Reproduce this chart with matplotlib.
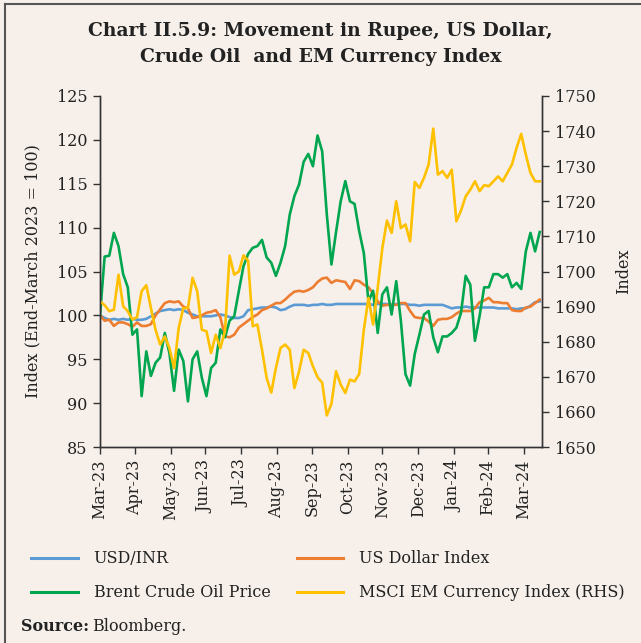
import pandas as pd
import matplotlib
matplotlib.use('Agg')
import matplotlib.pyplot as plt
from matplotlib.lines import Line2D

plt.rcParams['font.family'] = 'DejaVu Serif'

# 4-day observations starting end-March 2023
dates = pd.date_range('2023-03-31', periods=96, freq='4D')

usd_inr = [100.0, 99.7, 99.5, 99.6, 99.5, 99.6, 99.5, 99.6, 99.5, 99.5,
           99.6, 99.9, 100.2, 100.5, 100.6, 100.7, 100.6, 100.7, 100.6, 100.3,
           100.1, 99.9, 99.9, 99.9, 99.9, 100.0, 100.1, 100.0, 99.8, 99.7,
           99.7, 99.9, 100.6, 100.7, 100.8, 100.9, 100.9, 101.0, 100.9, 100.6,
           100.7, 101.0, 101.2, 101.2, 101.2, 101.1, 101.2, 101.2, 101.3, 101.2,
           101.2, 101.3, 101.3, 101.3, 101.3, 101.3, 101.3, 101.3, 101.3, 101.2,
           101.3, 101.3, 101.3, 101.2, 101.3, 101.3, 101.3, 101.2, 101.2, 101.1,
           101.2, 101.2, 101.2, 101.2, 101.2, 101.0, 100.8, 100.9, 100.9, 101.0,
           100.9, 100.9, 100.9, 100.9, 100.9, 100.9, 100.8, 100.8, 100.8, 100.8,
           100.7, 100.8, 100.8, 101.1, 101.5, 101.6]

dollar_index = [100.0, 99.4, 99.5, 98.8, 99.2, 99.2, 99.0, 98.7, 99.2, 98.8,
                98.8, 99.0, 100.0, 100.7, 101.4, 101.6, 101.5, 101.6, 101.0, 100.8,
                99.7, 99.8, 100.0, 100.3, 100.4, 100.6, 99.8, 97.6, 97.5, 97.8,
                98.6, 99.0, 99.4, 99.8, 100.1, 100.6, 100.8, 101.1, 101.4, 101.4,
                101.8, 102.3, 102.7, 102.8, 102.7, 102.9, 103.2, 103.8, 104.2, 104.3,
                103.7, 104.0, 103.9, 103.8, 103.0, 104.0, 103.9, 103.5, 103.2, 102.5,
                101.6, 101.1, 101.2, 101.2, 101.2, 101.4, 101.4, 100.5, 99.8, 99.7,
                99.7, 99.3, 98.8, 99.5, 99.6, 99.6, 99.8, 100.2, 100.5, 100.5,
                100.5, 100.8, 101.5, 101.7, 102.0, 101.5, 101.5, 101.4, 101.4, 100.6,
                100.5, 100.5, 100.9, 101.0, 101.4, 101.8]

brent = [100.0, 106.7, 106.8, 109.4, 107.9, 104.7, 103.2, 97.8, 98.4, 90.8,
         95.9, 93.1, 94.6, 95.2, 98.0, 95.7, 91.4, 96.1, 94.8, 90.2,
         95.0, 95.9, 92.9, 90.8, 94.0, 94.6, 98.4, 97.5, 99.4, 99.9,
         102.8, 105.6, 107.0, 107.7, 107.9, 108.6, 106.6, 106.0, 104.5, 106.0,
         107.9, 111.5, 113.6, 114.9, 117.5, 118.4, 117.0, 120.5, 118.7, 111.5,
         105.8, 109.5, 113.0, 115.3, 113.0, 112.7, 109.6, 107.1, 101.6, 102.8,
         98.0, 102.4, 103.2, 100.1, 103.9, 99.4, 93.3, 92.0, 95.6, 97.8,
         100.1, 100.5, 97.5, 95.8, 97.6, 97.6, 98.0, 98.6, 100.3, 104.5,
         103.5, 97.1, 99.9, 103.2, 103.2, 104.7, 104.7, 104.3, 104.7, 103.2,
         103.7, 103.0, 107.3, 109.4, 107.3, 109.5]

msci_em = [1691.5, 1690.4, 1688.7, 1689.1, 1699.1, 1690.1, 1688.7, 1686.3, 1687.0, 1694.4,
           1696.1, 1689.6, 1683.4, 1679.2, 1681.5, 1678.2, 1672.5, 1683.9, 1689.6, 1689.6,
           1698.2, 1694.4, 1683.4, 1683.0, 1676.8, 1682.0, 1678.2, 1683.0, 1704.5, 1699.1,
           1700.0, 1704.6, 1703.1, 1684.4, 1684.9, 1677.7, 1669.7, 1665.5, 1672.5, 1678.2,
           1679.2, 1677.7, 1666.8, 1671.5, 1677.7, 1676.8, 1673.0, 1669.9, 1668.3, 1659.0,
           1662.3, 1671.6, 1667.8, 1665.4, 1669.2, 1668.7, 1670.8, 1683.4, 1692.5, 1684.9,
           1695.3, 1706.7, 1714.5, 1711.0, 1720.0, 1712.4, 1713.4, 1708.6, 1725.5, 1723.8,
           1726.7, 1730.5, 1740.7, 1727.6, 1728.6, 1726.7, 1729.0, 1714.3, 1717.4, 1721.4,
           1723.3, 1725.7, 1722.9, 1724.6, 1724.3, 1725.7, 1727.1, 1725.7, 1728.1, 1730.5,
           1735.2, 1739.2, 1733.3, 1728.1, 1725.7, 1725.7]

bg = '#f7f0ea'
c_inr = '#5b9bd5'
c_dxy = '#ed7d31'
c_brent = '#00a64f'
c_msci = '#ffc000'
axis_col = '#333333'
txt_col = '#222222'
fs = 11.5

fig = plt.figure(figsize=(6.41, 6.43), dpi=100, facecolor=bg)
ax = fig.add_axes([0.156, 0.3048, 0.6896, 0.5459])
ax.set_facecolor(bg)
ax2 = ax.twinx()

ax.plot(dates, usd_inr, color=c_inr, lw=1.9)
ax.plot(dates, dollar_index, color=c_dxy, lw=1.9)
ax.plot(dates, brent, color=c_brent, lw=1.9)
ax2.plot(dates, msci_em, color=c_msci, lw=1.9)

ax.set_ylim(85, 125)
ax.set_yticks(range(85, 126, 5))
ax2.set_ylim(1650, 1750)
ax2.set_yticks(range(1650, 1751, 10))

months = pd.date_range('2023-03-31', '2024-03-31', freq='ME')
ax.set_xticks(months)
ax.set_xticklabels([d.strftime('%b-%y') for d in months], rotation=90)
ax.set_xlim(dates[0], dates[0] + pd.Timedelta(days=382))

for a in (ax, ax2):
    a.spines['top'].set_visible(False)
    for s in ('left', 'right', 'bottom'):
        a.spines[s].set_color(axis_col)
        a.spines[s].set_linewidth(1.0)
    a.tick_params(direction='out', length=5, width=1.0, color=axis_col,
                  labelsize=fs, labelcolor=txt_col, pad=4)

ax.set_ylabel('Index (End-March 2023 = 100)', fontsize=fs, color=txt_col, labelpad=11)
ax2.set_ylabel('Index', fontsize=fs, color=txt_col, labelpad=14)

fig.text(0.5, 0.932, 'Chart II.5.9: Movement in Rupee, US Dollar,\nCrude Oil  and EM Currency Index',
         ha='center', va='center', fontsize=13.5, fontweight='bold', color=txt_col,
         linespacing=1.55)

handles = [Line2D([], [], color=c_inr, lw=2.2),
           Line2D([], [], color=c_brent, lw=2.2),
           Line2D([], [], color=c_dxy, lw=2.2),
           Line2D([], [], color=c_msci, lw=2.2)]
labels = ['USD/INR', 'Brent Crude Oil Price', 'US Dollar Index', 'MSCI EM Currency Index (RHS)']
fig.legend(handles, labels, ncol=2, loc='upper left', bbox_to_anchor=(0.049, 0.144),
           frameon=False, fontsize=fs, handlelength=2.9, handletextpad=1.0,
           columnspacing=1.65, labelspacing=1.05, borderaxespad=0, borderpad=0,
           labelcolor=txt_col)

fig.text(0.033, 0.025, 'Source:', fontsize=fs, fontweight='bold', color=txt_col, va='center')
fig.text(0.143, 0.025, 'Bloomberg.', fontsize=fs, color=txt_col, va='center')

# frame lines on top and left edges
fig.add_artist(Line2D([0.008, 1.0], [0.994, 0.994], color='#555555', lw=1.5))
fig.add_artist(Line2D([0.008, 0.008], [0.0, 0.994], color='#555555', lw=1.5))

fig.savefig('out.png', dpi=100, facecolor=bg)
